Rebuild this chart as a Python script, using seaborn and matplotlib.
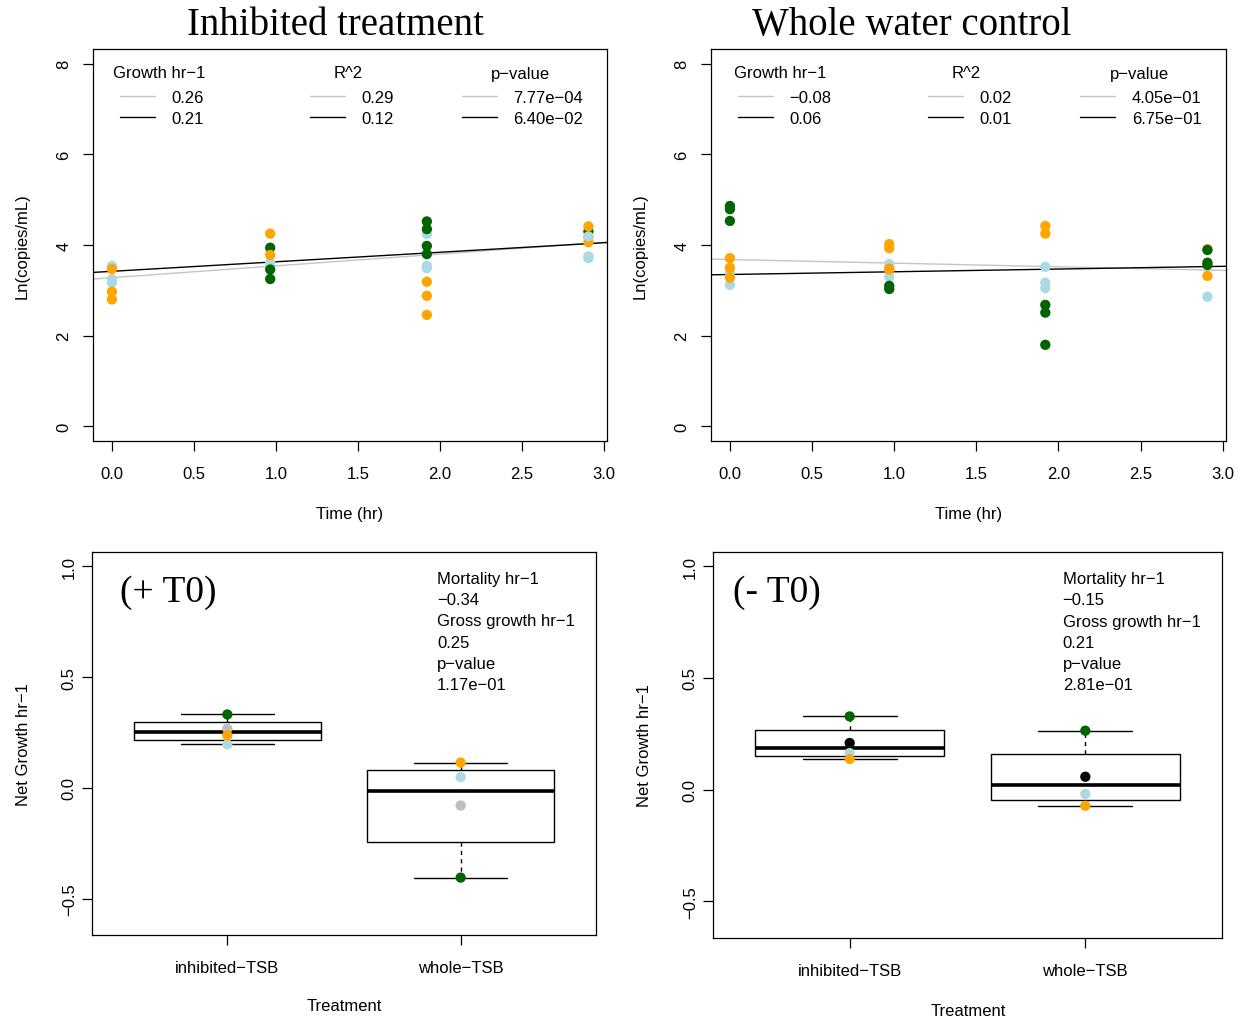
import numpy as np
import pandas as pd
import matplotlib
matplotlib.use("Agg")
import matplotlib.pyplot as plt
from matplotlib.lines import Line2D
from matplotlib.legend import Legend
import seaborn as sns

# ------------------------------------------------------------------ data
# Top panels: Ln(copies/mL) by sampling time and replicate colour (row order = drawing order)
inh_time = [0, 0, 0, 0, 0, 0,
            0.965, 0.965, 0.965, 0.965, 0.965, 0.965, 0.965,
            1.92, 1.92, 1.92, 1.92, 1.92, 1.92, 1.92, 1.92, 1.92, 1.92,
            2.905, 2.905, 2.905, 2.905, 2.905, 2.905, 2.905]
inh_value = [3.54, 3.25, 3.17, 3.47, 2.97, 2.80,
             3.61, 3.56, 3.94, 3.46, 3.25, 4.25, 3.78,
             4.24, 3.54, 3.49, 4.52, 4.35, 3.98, 3.80, 3.19, 2.88, 2.46,
             4.30, 4.41, 4.17, 4.06, 4.19, 3.75, 3.71]
inh_rep = ["lightblue", "lightblue", "lightblue", "orange", "orange", "orange",
           "lightblue", "lightblue", "darkgreen", "darkgreen", "darkgreen", "orange", "orange",
           "lightblue", "lightblue", "lightblue", "darkgreen", "darkgreen", "darkgreen", "darkgreen",
           "orange", "orange", "orange",
           "darkgreen", "orange", "orange", "orange", "lightblue", "lightblue", "lightblue"]

whole_time = [0, 0, 0, 0, 0, 0, 0, 0,
              0.97, 0.97, 0.97, 0.97, 0.97, 0.97, 0.97, 0.97,
              1.92, 1.92, 1.92, 1.92, 1.92, 1.92, 1.92, 1.92,
              2.907, 2.907, 2.907, 2.907, 2.907, 2.907]
whole_value = [3.39, 3.12, 3.71, 3.50, 3.28, 4.86, 4.79, 4.53,
               3.58, 3.30, 4.02, 3.93, 3.48, 3.46, 3.10, 3.03,
               3.52, 3.17, 3.05, 4.42, 4.25, 2.68, 2.51, 1.80,
               2.86, 3.91, 3.32, 3.89, 3.61, 3.56]
whole_rep = ["lightblue", "lightblue", "orange", "orange", "orange", "darkgreen", "darkgreen", "darkgreen",
             "lightblue", "lightblue", "orange", "orange", "orange", "orange", "darkgreen", "darkgreen",
             "lightblue", "lightblue", "lightblue", "orange", "orange", "darkgreen", "darkgreen", "darkgreen",
             "lightblue", "orange", "orange", "darkgreen", "darkgreen", "darkgreen"]

# regression fits (intercept, slope) : grey line, black line
inh_fit_intercepts = [3.28, 3.42]
inh_fit_slopes = [0.26, 0.21]
whole_fit_intercepts = [3.68, 3.35]
whole_fit_slopes = [-0.08, 0.06]

# legend text
legend_titles = ["Growth hr\u22121", "R^2", "p\u2212value"]
inh_growth = ["0.26", "0.21"]
inh_r2 = ["0.29", "0.12"]
inh_p = ["7.77e\u221204", "6.40e\u221202"]
whole_growth = ["\u22120.08", "0.06"]
whole_r2 = ["0.02", "0.01"]
whole_p = ["4.05e\u221201", "6.75e\u221201"]

# Bottom panels: net growth per treatment, four replicates each
treatments = ["inhibited\u2212TSB", "whole\u2212TSB"]
box_rep = ["darkgreen", "fourth", "lightblue", "orange"]
plus_inhibited = [0.331, 0.267, 0.196, 0.237]
plus_whole = [-0.405, -0.080, 0.048, 0.114]
minus_inhibited = [0.328, 0.209, 0.164, 0.137]
minus_whole = [0.264, 0.058, -0.019, -0.072]

plus_stats = ["Mortality hr\u22121", "\u22120.34", "Gross growth hr\u22121", "0.25", "p\u2212value", "1.17e\u221201"]
minus_stats = ["Mortality hr\u22121", "\u22120.15", "Gross growth hr\u22121", "0.21", "p\u2212value", "2.81e\u221201"]

top_yticks = [0, 2, 4, 6, 8]
top_xticks = [0.0, 0.5, 1.0, 1.5, 2.0, 2.5, 3.0]
top_xticklabels = ["0.0", "0.5", "1.0", "1.5", "2.0", "2.5", "3.0"]
bot_yticks = [-0.5, 0.0, 0.5, 1.0]
bot_yticklabels = ["\u22120.5", "0.0", "0.5", "1.0"]

# ------------------------------------------------------------------ style
sns.set_theme(style="white")
plt.rcParams["font.family"] = ["Liberation Sans", "DejaVu Sans"]
plt.rcParams["axes.unicode_minus"] = True
plt.rcParams["text.color"] = "black"
plt.rcParams["axes.labelcolor"] = "black"

W, H = 1244, 1020
fig = plt.figure(figsize=(W / 100, H / 100), dpi=100)


def rect(x0, x1, y0, y1):
    return [x0 / W, 1 - y1 / H, (x1 - x0) / W, (y1 - y0) / H]


ax_tl = fig.add_axes(rect(92.7, 607.3, 50, 442))
ax_tr = fig.add_axes(rect(710.7, 1226, 50, 442))
ax_bl = fig.add_axes(rect(92, 596, 553, 936))
ax_br = fig.add_axes(rect(713, 1222, 553, 939))

pal_top = {"darkgreen": "#006400", "orange": "#FFA500", "lightblue": "#ADD8E6"}


def style(ax, ypad):
    for sp in ax.spines.values():
        sp.set_visible(True)
        sp.set_color("black")
        sp.set_linewidth(0.9)
    ax.tick_params(axis="both", direction="out", length=7, width=0.9, colors="black",
                   labelsize=12, labelcolor="black", bottom=True, left=True)
    ax.tick_params(axis="x", pad=11)
    ax.tick_params(axis="y", pad=ypad)
    ax.grid(False)


def top_panel(ax, x0, t, v, rep, intercepts, slopes, cols, title_x, entry_x):
    df = pd.DataFrame({"time": t, "lnc": v, "rep": rep})
    sns.scatterplot(data=df, x="time", y="lnc", hue="rep", palette=pal_top, s=55,
                    linewidth=0, legend=False, ax=ax, zorder=3)
    line_cols = ["#C4C4C4", "black"]
    for b0, b1, c in zip(intercepts, slopes, line_cols):
        ax.axline((0, b0), slope=b1, color=c, lw=1.0, zorder=2)
    ax.set_xlim(-0.117, 3.02)
    ax.set_ylim(-0.32, 8.32)
    ax.set_xticks(top_xticks)
    ax.set_xticklabels(top_xticklabels)
    ax.set_yticks(top_yticks)
    ax.set_yticklabels([str(y) for y in top_yticks], rotation=90, va="center")
    ax.set_xlabel("Time (hr)", fontsize=12, va="center")
    ax.set_ylabel("Ln(copies/mL)", fontsize=12, va="center")
    ax.xaxis.set_label_coords(0.5, -0.184)
    ax.yaxis.set_label_coords(-0.137, 0.5)
    style(ax, 8.5)
    handles = [Line2D([], [], color=c, lw=1.0) for c in line_cols]
    aw = 515.0
    for title, labels, tx, ex in zip(legend_titles, cols, title_x, entry_x):
        ax.text((tx - x0) / aw, 1 - (74 - 50) / 392, title, transform=ax.transAxes,
                fontsize=12, ha="center", va="center")
        leg = Legend(ax, handles, labels, loc="center left",
                     bbox_to_anchor=((ex - x0) / aw, 1 - (109 - 50) / 392),
                     frameon=False, fontsize=12, handlelength=2.1,
                     handletextpad=1.0, labelspacing=0.33, borderpad=0,
                     borderaxespad=0)
        ax.add_artist(leg)


top_panel(ax_tl, 92.7, inh_time, inh_value, inh_rep, inh_fit_intercepts, inh_fit_slopes,
          [inh_growth, inh_r2, inh_p], [159, 348, 521], [120, 310, 462])
top_panel(ax_tr, 710.7, whole_time, whole_value, whole_rep, whole_fit_intercepts,
          whole_fit_slopes, [whole_growth, whole_r2, whole_p], [780, 966, 1139],
          [738, 928, 1080])

fig.text(335 / W, 1 - 35 / H, "Inhibited treatment", family="Liberation Serif",
         fontsize=28, ha="center", va="baseline", color="black")
fig.text(912 / W, 1 - 35 / H, "Whole water control", family="Liberation Serif",
         fontsize=28, ha="center", va="baseline", color="black")


def fivenum(vals):
    v = np.sort(np.asarray(vals, dtype=float))
    n = len(v)
    n4 = np.floor((n + 3) / 2) / 2
    d = np.array([1, n4, (n + 1) / 2, n + 1 - n4, n]) - 1
    return 0.5 * (v[np.floor(d).astype(int)] + v[np.ceil(d).astype(int)])


def box_stats(vals):
    mn, q1, med, q3, mx = fivenum(vals)
    iqr = q3 - q1
    v = np.asarray(vals)
    lo = v[v >= q1 - 1.5 * iqr].min()
    hi = v[v <= q3 + 1.5 * iqr].max()
    return dict(med=med, q1=q1, q3=q3, whislo=lo, whishi=hi, fliers=[])


def bottom_panel(ax, inhibited, whole, fourth_color, tag, stats_lines, tag_x, stats_x, ypad):
    ax.bxp([box_stats(inhibited), box_stats(whole)], positions=[0, 1], widths=0.8,
           capwidths=0.4, showfliers=False, patch_artist=True, manage_ticks=False,
           boxprops=dict(facecolor="white", edgecolor="black", linewidth=1.0),
           medianprops=dict(color="black", linewidth=2.6, solid_capstyle="butt"),
           whiskerprops=dict(color="black", linewidth=1.0, linestyle=(0, (3, 3))),
           capprops=dict(color="black", linewidth=1.0))
    df = pd.DataFrame({
        "treatment": [treatments[0]] * len(inhibited) + [treatments[1]] * len(whole),
        "value": list(inhibited) + list(whole),
        "rep": box_rep + box_rep,
    })
    pal = {"darkgreen": "#006400", "fourth": fourth_color,
           "lightblue": "#ADD8E6", "orange": "#FFA500"}
    sns.stripplot(data=df, x="treatment", y="value", hue="rep", palette=pal,
                  order=treatments, jitter=False, size=7.4, linewidth=0,
                  legend=False, ax=ax, zorder=4)
    ax.set_xlim(-0.58, 1.58)
    ax.set_ylim(-0.664, 1.064)
    ax.set_xticks([0, 1])
    ax.set_xticklabels(treatments)
    ax.set_yticks(bot_yticks)
    ax.set_yticklabels(bot_yticklabels, rotation=90, va="center")
    ax.set_xlabel("Treatment", fontsize=12, va="center")
    ax.set_ylabel("Net Growth hr\u22121", fontsize=12, va="center")
    ax.yaxis.set_label_coords(-0.135, 0.5)
    style(ax, ypad)
    ax.text(tag_x, 0.896, tag, transform=ax.transAxes, family="Liberation Serif",
            fontsize=27, ha="left", va="center", color="black")
    ax.text(stats_x, 0.950, "\n".join(stats_lines), transform=ax.transAxes,
            fontsize=12, ha="left", va="top", linespacing=1.51)


bottom_panel(ax_bl, plus_inhibited, plus_whole, "#BEBEBE", "(+ T0)", plus_stats,
             0.0556, 0.6845, 4)
ax_bl.xaxis.set_label_coords(0.5, -0.183)
bottom_panel(ax_br, minus_inhibited, minus_whole, "black", "(- T0)", minus_stats,
             0.039, 0.687, 4)
ax_br.xaxis.set_label_coords(0.501, -0.187)

fig.savefig("out.png", dpi=100, facecolor="white")
